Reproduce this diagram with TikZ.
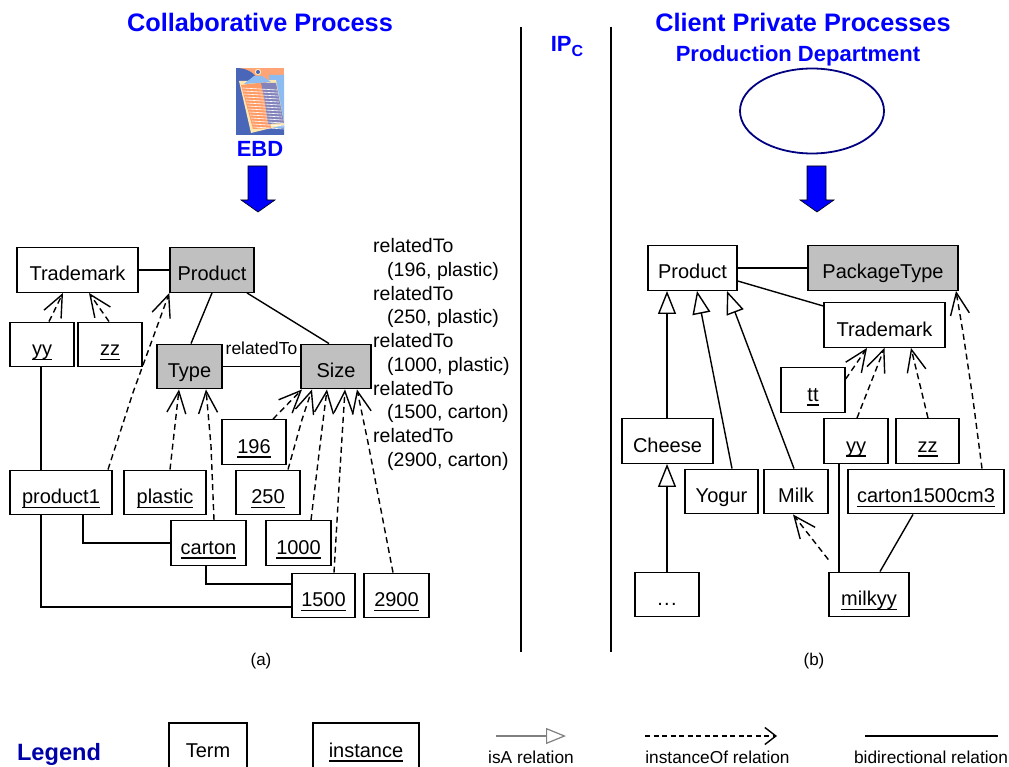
\documentclass[tikz,border=0pt]{standalone}
\usepackage{fontspec}
\setmainfont{Liberation Sans}
\usetikzlibrary{arrows.meta,shapes.geometric}
\newcommand{\inst}[1]{\setbox0\hbox{#1}\rlap{\rule[-4.5pt]{\wd0}{1.2pt}}\box0}
\newcommand{\fsz}[1]{\fontsize{#1}{#1}\selectfont}
\newcommand{\threedots}{.\kern1.4pt.\kern1.4pt.}
\definecolor{termgray}{HTML}{C0C0C0}
\definecolor{ebdblue}{HTML}{0000FF}
\definecolor{legendblue}{HTML}{0000A8}
\definecolor{ovalblue}{HTML}{000080}
\definecolor{isagray}{HTML}{808080}
\definecolor{clipback}{HTML}{FFA477}
\definecolor{clipdark}{HTML}{4A66B8}
\definecolor{clipsky}{HTML}{8CBCF2}
\definecolor{clipcream}{HTML}{FFE7B0}
\definecolor{clipline}{HTML}{FF9C66}
\definecolor{clipshade}{HTML}{8484BC}
\begin{document}
\begin{tikzpicture}[x=1pt,y=-1pt,
  term/.style={draw,line width=1.4pt,inner sep=0pt,minimum height=44.5pt,text height=26pt,text depth=4pt,font=\fsz{20}},
  concept/.style={term,fill=termgray},
  heading/.style={text=ebdblue,font=\bfseries\fsz{#1}},
  rel/.style={line width=1.4pt},
  inst of/.style={rel,dash pattern=on 6pt off 4pt,-{Straight Barb[length=22pt,width=19pt,line width=1.4pt]}},
  is a/.style={rel,-{Triangle[open,length=23pt,width=18pt,fill=white,line width=1.4pt]}},
  bigarrow/.style={draw=black,fill=ebdblue,line width=0.6pt}]
\useasboundingbox (0,0) rectangle (1009,767);
\node[heading=25.3] (collab) at (260,22) {Collaborative Process};
\node[heading=25.3] (client) at (803,22) {Client Private Processes};
\node[heading=22] (dept) at (798,56) {Production Department};
\node[heading=22] (ebd) at (260,149) {EBD};
\node[heading=22] (ipc) at (567,47) {IP\raisebox{-5pt}{\fsz{16}C}};
\coordinate (sepAtop) at (521,27);
\coordinate (sepAbot) at (521,652);
\coordinate (sepBtop) at (611,27);
\coordinate (sepBbot) at (611,652);
\draw[line width=2pt] (sepAtop) -- (sepAbot);
\draw[line width=2pt] (sepBtop) -- (sepBbot);
\fill[clipback] (236,68) rectangle (284,135);
\fill[clipdark] (236,68) .. controls (246,68) and (254,72) .. (258,80) -- (262,135) -- (236,135) -- cycle;
\fill[clipdark] (250,128) -- (284,126) -- (284,135) -- (250,135) -- cycle;
\fill[clipsky] (269,75) -- (284,75) -- (284,128) -- (272,128) -- cycle;
\fill[clipcream] (239,81) -- (276,80) -- (284,122) -- (284,125) -- (251,133) -- cycle;
\fill[clipline] (241,85) -- (266,82) -- (271,128) -- (253,129) -- cycle;
\fill[clipshade] (261,83) -- (276,83) -- (284,123) -- (268,124) .. controls (266,110) and (264,95) .. (261,83) -- cycle;
\foreach \i in {0,1,...,13}
  {\draw[white,line width=0.6pt] (242.5+0.85*\i,88+3*\i) -- (277+0.55*\i,90+3*\i);}
\fill[clipsky] (244,84) -- (254,76) -- (262,76) -- (271,82) -- cycle;
\fill[clipcream] (258,72) circle (3.2);
\fill[clipdark] (258,72) circle (2);
\foreach \x in {258,817}
  {\draw[bigarrow] (\x-10,166) -- (\x+9,166) -- (\x+9,200) -- (\x+17,200) -- (\x,212) -- (\x-17,200) -- (\x-10,200) -- cycle;}
\node[draw=ovalblue,line width=1.8pt,ellipse,inner sep=0pt,minimum width=144pt,minimum height=85pt] (dptoval) at (812,111) {};
\foreach \nme/\w/\x/\y/\lbl in {
  trademarkA/121/77.5/270/Trademark,
  yyA/64/42/344.5/\inst{yy},
  zzA/64/110/344.5/\inst{zz},
  nA196/64/254/442/\inst{196},
  productoneA/102/61/492.5/\inst{product1},
  plasticA/82/165/492.5/\inst{plastic},
  nA250/64/268/492.5/\inst{250},
  cartonA/75/208.5/543/\inst{carton},
  nA1000/65/298.5/543/\inst{1000},
  nA1500/63/323.5/595.5/\inst{1500},
  nA2900/65/396.5/595.5/\inst{2900},
  productB/89/692.5/268/Product,
  trademarkB/121/884.5/325/Trademark,
  ttB/64/813/390/\inst{tt},
  cheeseB/91/667.5/441/Cheese,
  yyB/64/856/441/\inst{yy},
  zzB/63/927.5/441/\inst{zz},
  yogurB/73/721.5/491.5/Yogur,
  milkB/64/796/491.5/Milk,
  cartoncmB/156/926/491.5/\inst{carton1500cm3},
  dotsB/64/667/594.5/\threedots,
  milkyyB/80/869/594.5/\inst{milkyy}}
  {\node[term,minimum width=\w pt] (\nme) at (\x,\y) {\lbl};}
\foreach \nme/\w/\x/\y/\lbl in {
  productA/84/212/270/Product,
  typeA/65/189.5/366.5/Type,
  sizeA/70/336/366.5/Size,
  packageB/150/883/268/PackageType}
  {\node[concept,minimum width=\w pt] (\nme) at (\x,\y) {\lbl};}
\draw[rel] (trademarkA) -- (productA);
\draw[rel] ([xshift=0pt]productA.south) -- ([xshift=1.5pt]typeA.north);
\draw[rel] ([xshift=35pt]productA.south) -- ([xshift=-7pt]sizeA.north);
\draw[rel] (typeA) -- node[above=10pt,font=\fsz{17.4},inner sep=1pt] (relatedlbl) {relatedTo} (sizeA);
\draw[inst of] ([xshift=7pt]yyA.north) -- ([xshift=-14.5pt]trademarkA.south);
\draw[inst of] ([xshift=-1pt]zzA.north) -- ([xshift=11.5pt]trademarkA.south);
\draw[inst of] ([xshift=47pt]productoneA.north) -- ++(25,-77) -- (productA.south west);
\draw[inst of] ([xshift=5pt]plasticA.north) -- ([xshift=-10.5pt]typeA.south);
\draw[inst of] ([xshift=5.5pt]cartonA.north) -- ++(-3,-74) -- ([xshift=16.5pt]typeA.south);
\draw[inst of] ([xshift=19pt]nA196.north) -- ([xshift=-34pt]sizeA.south);
\draw[inst of] ([xshift=20pt]nA250.north) -- ++(14,-50) -- ([xshift=-24pt]sizeA.south);
\draw[inst of] ([xshift=12.5pt]nA1000.north) -- ++(11,-91) -- ([xshift=-9pt]sizeA.south);
\draw[inst of] ([xshift=10.5pt]nA1500.north) -- ++(6,-103) -- ([xshift=9pt]sizeA.south);
\draw[inst of] ([xshift=-3.5pt]nA2900.north) -- ++(-25,-130) -- ([xshift=21pt]sizeA.south);
\draw[rel] ([xshift=-1pt]yyA.south) -- ([xshift=-20pt]productoneA.north);
\draw[rel] ([xshift=22pt]productoneA.south) |- (cartonA.west);
\draw[rel] ([xshift=-20pt]productoneA.south) |- ([yshift=-11.5pt]nA1500.west);
\draw[rel] ([xshift=-2.5pt]cartonA.south) |- ([yshift=11.5pt]nA1500.west);
\draw[rel] (productB) -- (packageB);
\draw[rel] ([yshift=-13pt]productB.east) -- ([yshift=19pt]trademarkB.west);
\draw[inst of] ([yshift=11pt]ttB.east) -- ([xshift=-17.5pt]trademarkB.south);
\draw[inst of] ([xshift=1pt]yyB.north) -- (trademarkB.south);
\draw[inst of] ([xshift=.5pt]zzB.north) -- ([xshift=26.5pt]trademarkB.south);
\draw[inst of] ([xshift=56pt]cartoncmB.north) -- ++(-9,-69) -- ++(-10,-67) -- ([xshift=73pt]packageB.south);
\draw[is a] ([xshift=-.5pt]cheeseB.north) -- ([xshift=-25.5pt]productB.south);
\draw[is a] ([xshift=10.5pt]yogurB.north) -- ([xshift=4.5pt]productB.south);
\draw[is a] ([xshift=-2pt]milkB.north) -- ([xshift=34.5pt]productB.south);
\draw[is a] (dotsB.north) -- ([xshift=-.5pt]cheeseB.south);
\draw[inst of] ([yshift=12pt]milkyyB.north west) -- ([xshift=-3pt]milkB.south);
\draw[rel] ([xshift=-17pt]yyB.south) -- ([xshift=-30pt]milkyyB.north);
\draw[rel] ([xshift=-13pt]cartoncmB.south) -- ([xshift=11pt]milkyyB.north);
\node[anchor=north west,align=left,inner sep=0pt,font=\fsz{19.5}] (relatedlist) at (373,238.5) {relatedTo\\[4.2pt]
  \hspace{14pt}(196, plastic)\\[4.2pt]
  relatedTo\\[4.2pt]
  \hspace{14pt}(250, plastic)\\[4.2pt]
  relatedTo\\[4.2pt]
  \hspace{14pt}(1000, plastic)\\[4.2pt]
  relatedTo\\[4.2pt]
  \hspace{14pt}(1500, carton)\\[4.2pt]
  relatedTo\\[4.2pt]
  \hspace{14pt}(2900, carton)};
\node[font=\fsz{17}] (captiona) at (261,661) {(a)};
\node[font=\fsz{17}] (captionb) at (814,661) {(b)};
\node[text=legendblue,font=\bfseries\fsz{23.6}] (legend) at (59,754) {Legend};
\node[term,minimum width=78pt,minimum height=46pt] (legendterm) at (208,746) {Term};
\node[term,minimum width=106pt,minimum height=46pt] (legendinst) at (366,746) {\inst{instance}};
\foreach \nme/\x/\lbl in {isalbl/531/isA relation,instlbl/717.5/instanceOf relation,bidirlbl/931/bidirectional relation}
  {\node[font=\fsz{17.3}] (\nme) at (\x,757) {\lbl};}
\coordinate (isastart) at (496,736);
\coordinate (isaend) at (566,736);
\coordinate (inststart) at (645,736);
\coordinate (instend) at (777,736);
\coordinate (bidirstart) at (865,736);
\coordinate (bidirend) at (998,736);
\draw[line width=1.5pt,draw=isagray,-{Triangle[open,length=20pt,width=16pt,fill=white,line width=1.2pt]}] (isastart) -- (isaend);
\draw[rel,dash pattern=on 5pt off 3.5pt,-{Straight Barb[length=11pt,width=17pt,line width=1.4pt]}] (inststart) -- (instend);
\draw[rel] (bidirstart) -- (bidirend);
\end{tikzpicture}
\end{document}
